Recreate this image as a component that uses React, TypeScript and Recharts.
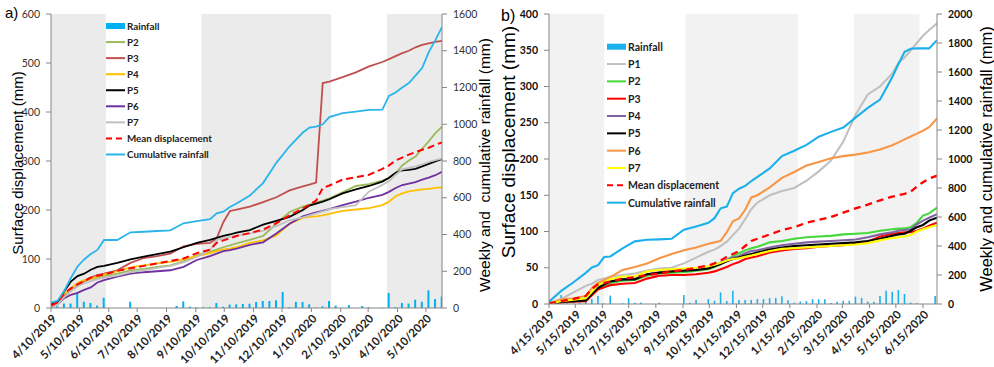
import React from 'react';
import { ComposedChart, Line, Bar, XAxis, YAxis, ReferenceArea } from 'recharts';

// ---------- Panel a) : 4/10/2019 – 5/27/2020 ----------
const aStart = '4/10/2019';
const aEnd = '5/27/2020';
const aTickLabels = ['4/10/2019', '5/10/2019', '6/10/2019', '7/10/2019', '8/10/2019', '9/10/2019', '10/10/2019', '11/10/2019', '12/10/2019', '1/10/2020', '2/10/2020', '3/10/2020', '4/10/2020', '5/10/2020'];
const aShaded = [['4/10/2019', '6/7/2019'], ['9/16/2019', '1/31/2020'], ['3/30/2020', '5/27/2020']];
const aDates = ['4/10/2019', '4/17/2019', '4/24/2019', '5/1/2019', '5/8/2019', '5/15/2019', '5/22/2019', '5/29/2019', '6/5/2019', '6/19/2019', '7/3/2019', '7/17/2019', '7/31/2019', '8/14/2019', '8/28/2019', '9/11/2019', '9/25/2019', '10/2/2019', '10/9/2019', '10/16/2019', '10/23/2019', '11/6/2019', '11/20/2019', '12/4/2019', '12/18/2019', '1/1/2020', '1/8/2020', '1/15/2020', '1/22/2020', '1/29/2020', '2/12/2020', '2/26/2020', '3/11/2020', '3/25/2020', '4/1/2020', '4/8/2020', '4/15/2020', '4/22/2020', '4/29/2020', '5/6/2020', '5/13/2020', '5/20/2020', '5/27/2020'];
const aP2 = [3, 8, 27, 40, 48, 55, 59, 62, 65, 70, 77, 80, 84, 87, 95, 108, 115, 119, 124, 128, 132, 139, 147, 172, 196, 207, 211, 215, 219, 224, 236, 249, 253, 260, 265, 275, 291, 301, 309, 325, 340, 357, 370];
const aP3 = [4, 10, 24, 35, 45, 55, 62, 67, 70, 77, 92, 102, 106, 111, 126, 131, 133, 142, 175, 198, 201, 207, 216, 226, 240, 248, 252, 256, 459, 462, 471, 481, 493, 502, 508, 514, 520, 525, 532, 537, 540, 543, 545];
const aP4 = [5, 12, 28, 40, 51, 57, 60, 64, 68, 75, 83, 87, 91, 94, 99, 106, 112, 116, 119, 121, 124, 133, 138, 148, 172, 184, 186, 187, 189, 192, 198, 201, 204, 210, 217, 228, 234, 238, 240, 242, 243, 245, 246];
const aP5 = [7, 12, 34, 54, 65, 70, 78, 84, 86, 92, 99, 105, 110, 115, 124, 133, 139, 143, 147, 150, 154, 159, 170, 178, 186, 200, 209, 213, 217, 222, 234, 242, 249, 258, 266, 276, 281, 282, 284, 289, 294, 299, 304];
const aP6 = [1, 8, 20, 27, 31, 37, 42, 52, 57, 64, 70, 73, 75, 77, 84, 98, 106, 111, 116, 118, 121, 129, 134, 152, 172, 187, 191, 195, 198, 202, 210, 217, 225, 231, 237, 245, 251, 254, 257, 262, 266, 271, 278];
const aP7 = [1, 8, 22, 35, 45, 50, 55, 59, 62, 66, 73, 77, 82, 86, 93, 104, 118, 139, 142, 145, 148, 152, 158, 167, 179, 185, 189, 193, 197, 202, 206, 210, 238, 251, 259, 272, 283, 286, 289, 293, 298, 302, 305];
const aMean = [5, 12, 30, 40, 48, 55, 62, 66, 68, 76, 81, 86, 91, 96, 101, 112, 119, 133, 138, 142, 147, 153, 160, 173, 189, 203, 211, 219, 245, 250, 262, 267, 272, 284, 291, 301, 307, 313, 318, 323, 327, 333, 338];
const aCumRain = [29, 40, 93, 163, 226, 264, 294, 316, 370, 370, 412, 415, 419, 423, 461, 473, 483, 515, 524, 550, 569, 612, 680, 790, 880, 955, 982, 987, 1000, 1039, 1061, 1069, 1078, 1080, 1154, 1173, 1200, 1224, 1265, 1306, 1393, 1458, 1529];
// weekly rainfall, first week ending 4/17/2019
const aRainStart = '4/17/2019';
const aRain = [10, 24, 24, 82, 34, 27, 13, 56, 0, 0, 0, 34, 0, 0, 0, 0, 0, 0, 11, 36, 7, 4, 4, 4, 27, 7, 19, 20, 22, 23, 33, 38, 38, 42, 87, 5, 34, 33, 20, 2, 9, 38, 13, 0, 16, 0, 11, 4, 0, 2, 82, 5, 27, 24, 45, 34, 96, 49, 63];

// ---------- Panel b) : 4/15/2019 – 7/1/2020 ----------
const bStart = '4/15/2019';
const bEnd = '7/1/2020';
const bTickLabels = ['4/15/2019', '5/15/2019', '6/15/2019', '7/15/2019', '8/15/2019', '9/15/2019', '10/15/2019', '11/15/2019', '12/15/2019', '1/15/2020', '2/15/2020', '3/15/2020', '4/15/2020', '5/15/2020', '6/15/2020'];
const bShaded = [['4/15/2019', '6/17/2019'], ['9/18/2019', '1/24/2020'], ['3/28/2020', '6/11/2020']];
const bDates = ['4/15/2019', '4/29/2019', '5/13/2019', '5/27/2019', '6/3/2019', '6/10/2019', '6/17/2019', '6/24/2019', '7/8/2019', '7/22/2019', '8/5/2019', '8/19/2019', '9/2/2019', '9/16/2019', '9/30/2019', '10/14/2019', '10/21/2019', '10/28/2019', '11/4/2019', '11/11/2019', '11/18/2019', '11/25/2019', '12/2/2019', '12/9/2019', '12/23/2019', '1/6/2020', '1/20/2020', '2/3/2020', '2/17/2020', '3/2/2020', '3/16/2020', '3/30/2020', '4/13/2020', '4/27/2020', '5/11/2020', '5/18/2020', '5/25/2020', '6/1/2020', '6/8/2020', '6/15/2020', '6/22/2020', '7/1/2020'];
const bP1 = [1, 7, 16, 25, 28, 33, 35, 38, 40, 42, 46, 49, 50, 56, 64, 72, 75, 80, 86, 95, 104, 117, 131, 140, 150, 156, 160, 170, 183, 198, 224, 261, 289, 300, 318, 333, 340, 350, 360, 370, 378, 387];
const bP2 = [0, 3, 4, 5, 14, 22, 25, 29, 32, 33, 39, 42, 43, 44, 46, 48, 51, 55, 61, 66, 70, 74, 77, 79, 85, 87, 90, 92, 93, 94, 96, 97, 98, 101, 103, 104, 104, 106, 112, 122, 125, 133];
const bP3 = [0, 2, 3, 4, 12, 20, 23, 26, 28, 29, 35, 39, 40, 40, 41, 43, 45, 48, 51, 55, 58, 62, 64, 66, 71, 74, 76, 77, 79, 80, 81, 83, 86, 93, 97, 98, 99, 99, 101, 104, 108, 112];
const bP4 = [0, 3, 4, 6, 14, 23, 27, 31, 34, 35, 41, 44, 46, 47, 48, 51, 54, 57, 61, 64, 66, 70, 73, 74, 78, 81, 83, 85, 86, 87, 88, 89, 92, 96, 99, 101, 102, 103, 110, 115, 119, 124];
const bP5 = [0, 3, 4, 5, 14, 22, 27, 31, 34, 34, 41, 43, 45, 46, 47, 49, 52, 55, 59, 62, 64, 67, 69, 71, 75, 78, 80, 81, 82, 83, 84, 85, 87, 90, 94, 96, 97, 101, 106, 109, 115, 119];
const bP6 = [1, 6, 8, 11, 22, 29, 33, 37, 47, 51, 56, 63, 69, 74, 78, 83, 85, 87, 99, 114, 118, 130, 147, 150, 161, 174, 182, 191, 196, 201, 204, 206, 209, 213, 219, 223, 227, 231, 235, 239, 244, 256];
const bP7 = [0, 4, 6, 8, 17, 26, 30, 34, 38, 38, 45, 47, 48, 49, 50, 52, 54, 57, 60, 62, 63, 65, 67, 69, 73, 76, 77, 78, 79, 80, 81, 82, 84, 88, 91, 92, 93, 95, 100, 103, 106, 109];
const bMean = [1, 4, 7, 11, 21, 27, 29, 31, 35, 37, 40, 42, 45, 47, 50, 53, 56, 60, 65, 69, 73, 80, 87, 90, 96, 102, 106, 112, 116, 120, 126, 132, 137, 143, 148, 150, 152, 155, 162, 168, 173, 177];
const bCumRain = [16, 90, 150, 215, 252, 268, 324, 328, 384, 432, 443, 446, 450, 512, 535, 560, 592, 660, 672, 765, 795, 815, 848, 876, 935, 1020, 1057, 1097, 1154, 1187, 1217, 1285, 1352, 1410, 1565, 1655, 1740, 1760, 1763, 1763, 1763, 1820];
// weekly rainfall, first week starting 4/15/2019
const bRainStart = '4/15/2019';
const bRain = [0, 0, 62, 5, 3, 8, 16, 34, 56, 3, 58, 0, 5, 40, 9, 11, 0, 0, 9, 0, 0, 0, 62, 9, 28, 0, 34, 23, 80, 21, 91, 28, 28, 28, 34, 34, 41, 42, 53, 26, 8, 17, 20, 34, 33, 33, 7, 15, 23, 23, 51, 42, 17, 16, 55, 91, 84, 97, 69, 10, 5, 0, 0, 56];

// ---------- helpers ----------
const DAY_MS = 86400000;
const toUtc = (s: string) => {
  const [m, d, y] = s.split('/').map(Number);
  return Date.UTC(y, m - 1, d);
};
const dayOf = (s: string, start: string) => Math.round((toUtc(s) - toUtc(start)) / DAY_MS);

type SeriesDef = { key: string; name: string; color: string; values: number[]; dashed?: boolean; axis: 'l' | 'r' };

function buildRows(start: string, dates: string[], series: SeriesDef[], rainStart: string, rain: number[]) {
  const byDay = new Map<number, any>();
  const row = (d: number) => {
    if (!byDay.has(d)) byDay.set(d, { day: d });
    return byDay.get(d);
  };
  dates.forEach((s, i) => {
    const r = row(dayOf(s, start));
    series.forEach((sd) => {
      r[sd.key] = sd.values[i];
    });
  });
  const r0 = dayOf(rainStart, start);
  rain.forEach((v, i) => {
    row(r0 + 7 * i).rain = v;
  });
  return Array.from(byDay.values()).sort((a, b) => a.day - b.day);
}

const seriesA: SeriesDef[] = [
  { key: 'p2', name: 'P2', color: '#9bbb59', values: aP2, axis: 'l' },
  { key: 'p3', name: 'P3', color: '#c0504d', values: aP3, axis: 'l' },
  { key: 'p4', name: 'P4', color: '#ffc000', values: aP4, axis: 'l' },
  { key: 'p5', name: 'P5', color: '#000000', values: aP5, axis: 'l' },
  { key: 'p6', name: 'P6', color: '#7030a0', values: aP6, axis: 'l' },
  { key: 'p7', name: 'P7', color: '#c0c0c0', values: aP7, axis: 'l' },
  { key: 'mean', name: 'Mean displacement', color: '#ff0000', values: aMean, axis: 'l', dashed: true },
  { key: 'cum', name: 'Cumulative rainfall', color: '#29b5ec', values: aCumRain, axis: 'r' },
];

const seriesB: SeriesDef[] = [
  { key: 'p1', name: 'P1', color: '#c0c0c0', values: bP1, axis: 'l' },
  { key: 'p2', name: 'P2', color: '#44d83a', values: bP2, axis: 'l' },
  { key: 'p3', name: 'P3', color: '#ff0000', values: bP3, axis: 'l' },
  { key: 'p4', name: 'P4', color: '#8064a2', values: bP4, axis: 'l' },
  { key: 'p5', name: 'P5', color: '#000000', values: bP5, axis: 'l' },
  { key: 'p6', name: 'P6', color: '#f79646', values: bP6, axis: 'l' },
  { key: 'p7', name: 'P7', color: '#ffff00', values: bP7, axis: 'l' },
  { key: 'mean', name: 'Mean displacement', color: '#ff0000', values: bMean, axis: 'l', dashed: true },
  { key: 'cum', name: 'Cumulative rainfall', color: '#1ab0ec', values: bCumRain, axis: 'r' },
];

const rowsA = buildRows(aStart, aDates, seriesA, aRainStart, aRain);
const rowsB = buildRows(bStart, bDates, seriesB, bRainStart, bRain);

const AXIS_GRAY = '#868686';
const FONT = 'Lato, "Liberation Sans", Arial, sans-serif';
const TITLE_FONT = '"Liberation Sans", Arial, sans-serif';

const makeDateTick = (labels: Record<number, string>, size: number) => (props: any) => {
  const { x, y, payload } = props;
  const tx = x + 3;
  const ty = y + 2;
  return (
    <text x={tx} y={ty} transform={`rotate(-45 ${tx} ${ty})`} textAnchor="end" dominantBaseline="central" fontFamily={FONT} fontWeight={700} fontSize={size} fill="#222">
      {labels[payload.value]}
    </text>
  );
};

type PanelProps = {
  width: number;
  rows: any[];
  start: string;
  end: string;
  tickLabels: string[];
  shaded: string[][];
  shadeColor: string;
  series: SeriesDef[];
  leftMax: number;
  leftStep: number;
  rightMax: number;
  rightStep: number;
  leftWidth: number;
  rightWidth: number;
  xHeight: number;
  bold: boolean;
  lineWidth: number;
  barColor: string;
  dash: string;
};

function Panel(p: PanelProps) {
  const tickDays = p.tickLabels.map((s) => dayOf(s, p.start));
  const labelMap: Record<number, string> = {};
  p.tickLabels.forEach((s, i) => (labelMap[tickDays[i]] = s));
  const leftTicks: number[] = [];
  for (let v = 0; v <= p.leftMax; v += p.leftStep) leftTicks.push(v);
  const rightTicks: number[] = [];
  for (let v = 0; v <= p.rightMax; v += p.rightStep) rightTicks.push(v);
  const yTick = { fontSize: 10.5, fontFamily: FONT, fontWeight: p.bold ? 700 : 400, fill: p.bold ? '#111' : '#333' };
  return (
    <ComposedChart width={p.width} height={367} data={p.rows} margin={{ top: 14, right: 0, bottom: 0, left: 0 }}>
      <XAxis
        dataKey="day"
        type="number"
        domain={[0, dayOf(p.end, p.start)]}
        ticks={tickDays}
        interval={0}
        allowDataOverflow
        height={p.xHeight}
        stroke={AXIS_GRAY}
        tickSize={4}
        tick={makeDateTick(labelMap, 11.5)}
      />
      <YAxis yAxisId="l" domain={[0, p.leftMax]} ticks={leftTicks} interval={0} width={p.leftWidth} stroke={AXIS_GRAY} tickSize={5} tickMargin={6} tick={yTick} allowDataOverflow />
      <YAxis yAxisId="r" orientation="right" domain={[0, p.rightMax]} ticks={rightTicks} interval={0} width={p.rightWidth} stroke={AXIS_GRAY} tickSize={5} tickMargin={6} tick={yTick} allowDataOverflow />
      {p.shaded.map(([a, b], i) => (
        <ReferenceArea key={i} yAxisId="l" x1={dayOf(a, p.start)} x2={dayOf(b, p.start)} y1={0} y2={p.leftMax} fill={p.shadeColor} fillOpacity={1} stroke="none" ifOverflow="hidden" />
      ))}
      <Bar yAxisId="r" dataKey="rain" name="Rainfall" fill={p.barColor} barSize={2} isAnimationActive={false} />
      {p.series.map((s) => (
        <Line
          key={s.key}
          yAxisId={s.axis}
          dataKey={s.key}
          name={s.name}
          stroke={s.color}
          strokeWidth={s.dashed ? p.lineWidth + 0.2 : p.lineWidth}
          strokeDasharray={s.dashed ? p.dash : undefined}
          dot={false}
          connectNulls
          type="linear"
          isAnimationActive={false}
        />
      ))}
    </ComposedChart>
  );
}

function LegendBox({ series, x, y, step, size, barColor }: { series: SeriesDef[]; x: number; y: number; step: number; size: number; barColor: string }) {
  const sw = 19;
  return (
    <g fontFamily={FONT} fontWeight={700} fontSize={size} fill="#222">
      <rect x={x} y={y - 3} width={sw} height={6} fill={barColor} />
      <text x={x + sw + 2} y={y} dominantBaseline="central">Rainfall</text>
      {series.map((s, i) => {
        const cy = y + step * (i + 1);
        return (
          <g key={s.key}>
            <line x1={x} x2={x + sw} y1={cy} y2={cy} stroke={s.color} strokeWidth={2} strokeDasharray={s.dashed ? '6 4' : undefined} />
            <text x={x + sw + 2} y={cy} dominantBaseline="central">{s.name}</text>
          </g>
        );
      })}
    </g>
  );
}

export default function App() {
  return (
    <div style={{ position: 'absolute', left: 0, top: 0, width: 994, height: 367, background: '#fff', overflow: 'hidden' }}>
      <div style={{ position: 'absolute', left: 0, top: 0 }}>
        <Panel
          width={494}
          rows={rowsA}
          start={aStart}
          end={aEnd}
          tickLabels={aTickLabels}
          shaded={aShaded}
          shadeColor="#ebebeb"
          series={seriesA}
          leftMax={600}
          leftStep={100}
          rightMax={1600}
          rightStep={200}
          leftWidth={51}
          rightWidth={52}
          xHeight={59}
          bold={false}
          lineWidth={1.8}
          barColor="#00b0f0"
          dash="7 4"
        />
      </div>
      <div style={{ position: 'absolute', left: 494, top: 0 }}>
        <Panel
          width={500}
          rows={rowsB}
          start={bStart}
          end={bEnd}
          tickLabels={bTickLabels}
          shaded={bShaded}
          shadeColor="#f2f2f2"
          series={seriesB}
          leftMax={400}
          leftStep={50}
          rightMax={2000}
          rightStep={200}
          leftWidth={55}
          rightWidth={57}
          xHeight={63}
          bold={true}
          lineWidth={2.1}
          barColor="#1ab0ec"
          dash="7 5"
        />
      </div>
      <svg width={994} height={367} style={{ position: 'absolute', left: 0, top: 0, pointerEvents: 'none' }}>
        <text x={5} y={18} fontFamily={TITLE_FONT} fontSize={15} fill="#000">a)</text>
        <text x={501} y={21} fontFamily={TITLE_FONT} fontSize={16} fill="#000">b)</text>
        <text transform="translate(17 163) rotate(-90)" textAnchor="middle" dominantBaseline="central" fontFamily={TITLE_FONT} fontSize={15} fill="#000">Surface displacement (mm)</text>
        <text transform="translate(484 165) rotate(-90)" textAnchor="middle" dominantBaseline="central" fontFamily={TITLE_FONT} fontSize={15.5} fill="#000" style={{ whiteSpace: 'pre' }}>Weekly and  cumulative rainfall (mm)</text>
        <text transform="translate(508 142) rotate(-90)" textAnchor="middle" dominantBaseline="central" fontFamily={TITLE_FONT} fontSize={19} fill="#000">Surface displacement (mm)</text>
        <text transform="translate(986 159) rotate(-90)" textAnchor="middle" dominantBaseline="central" fontFamily={TITLE_FONT} fontSize={16.5} fill="#000">Weekly and cumulative rainfall (mm)</text>
        <LegendBox series={seriesA} x={106} y={26} step={16.06} size={9.8} barColor="#00b0f0" />
        <LegendBox series={seriesB} x={607} y={46.7} step={17.33} size={10.5} barColor="#1ab0ec" />
      </svg>
    </div>
  );
}
